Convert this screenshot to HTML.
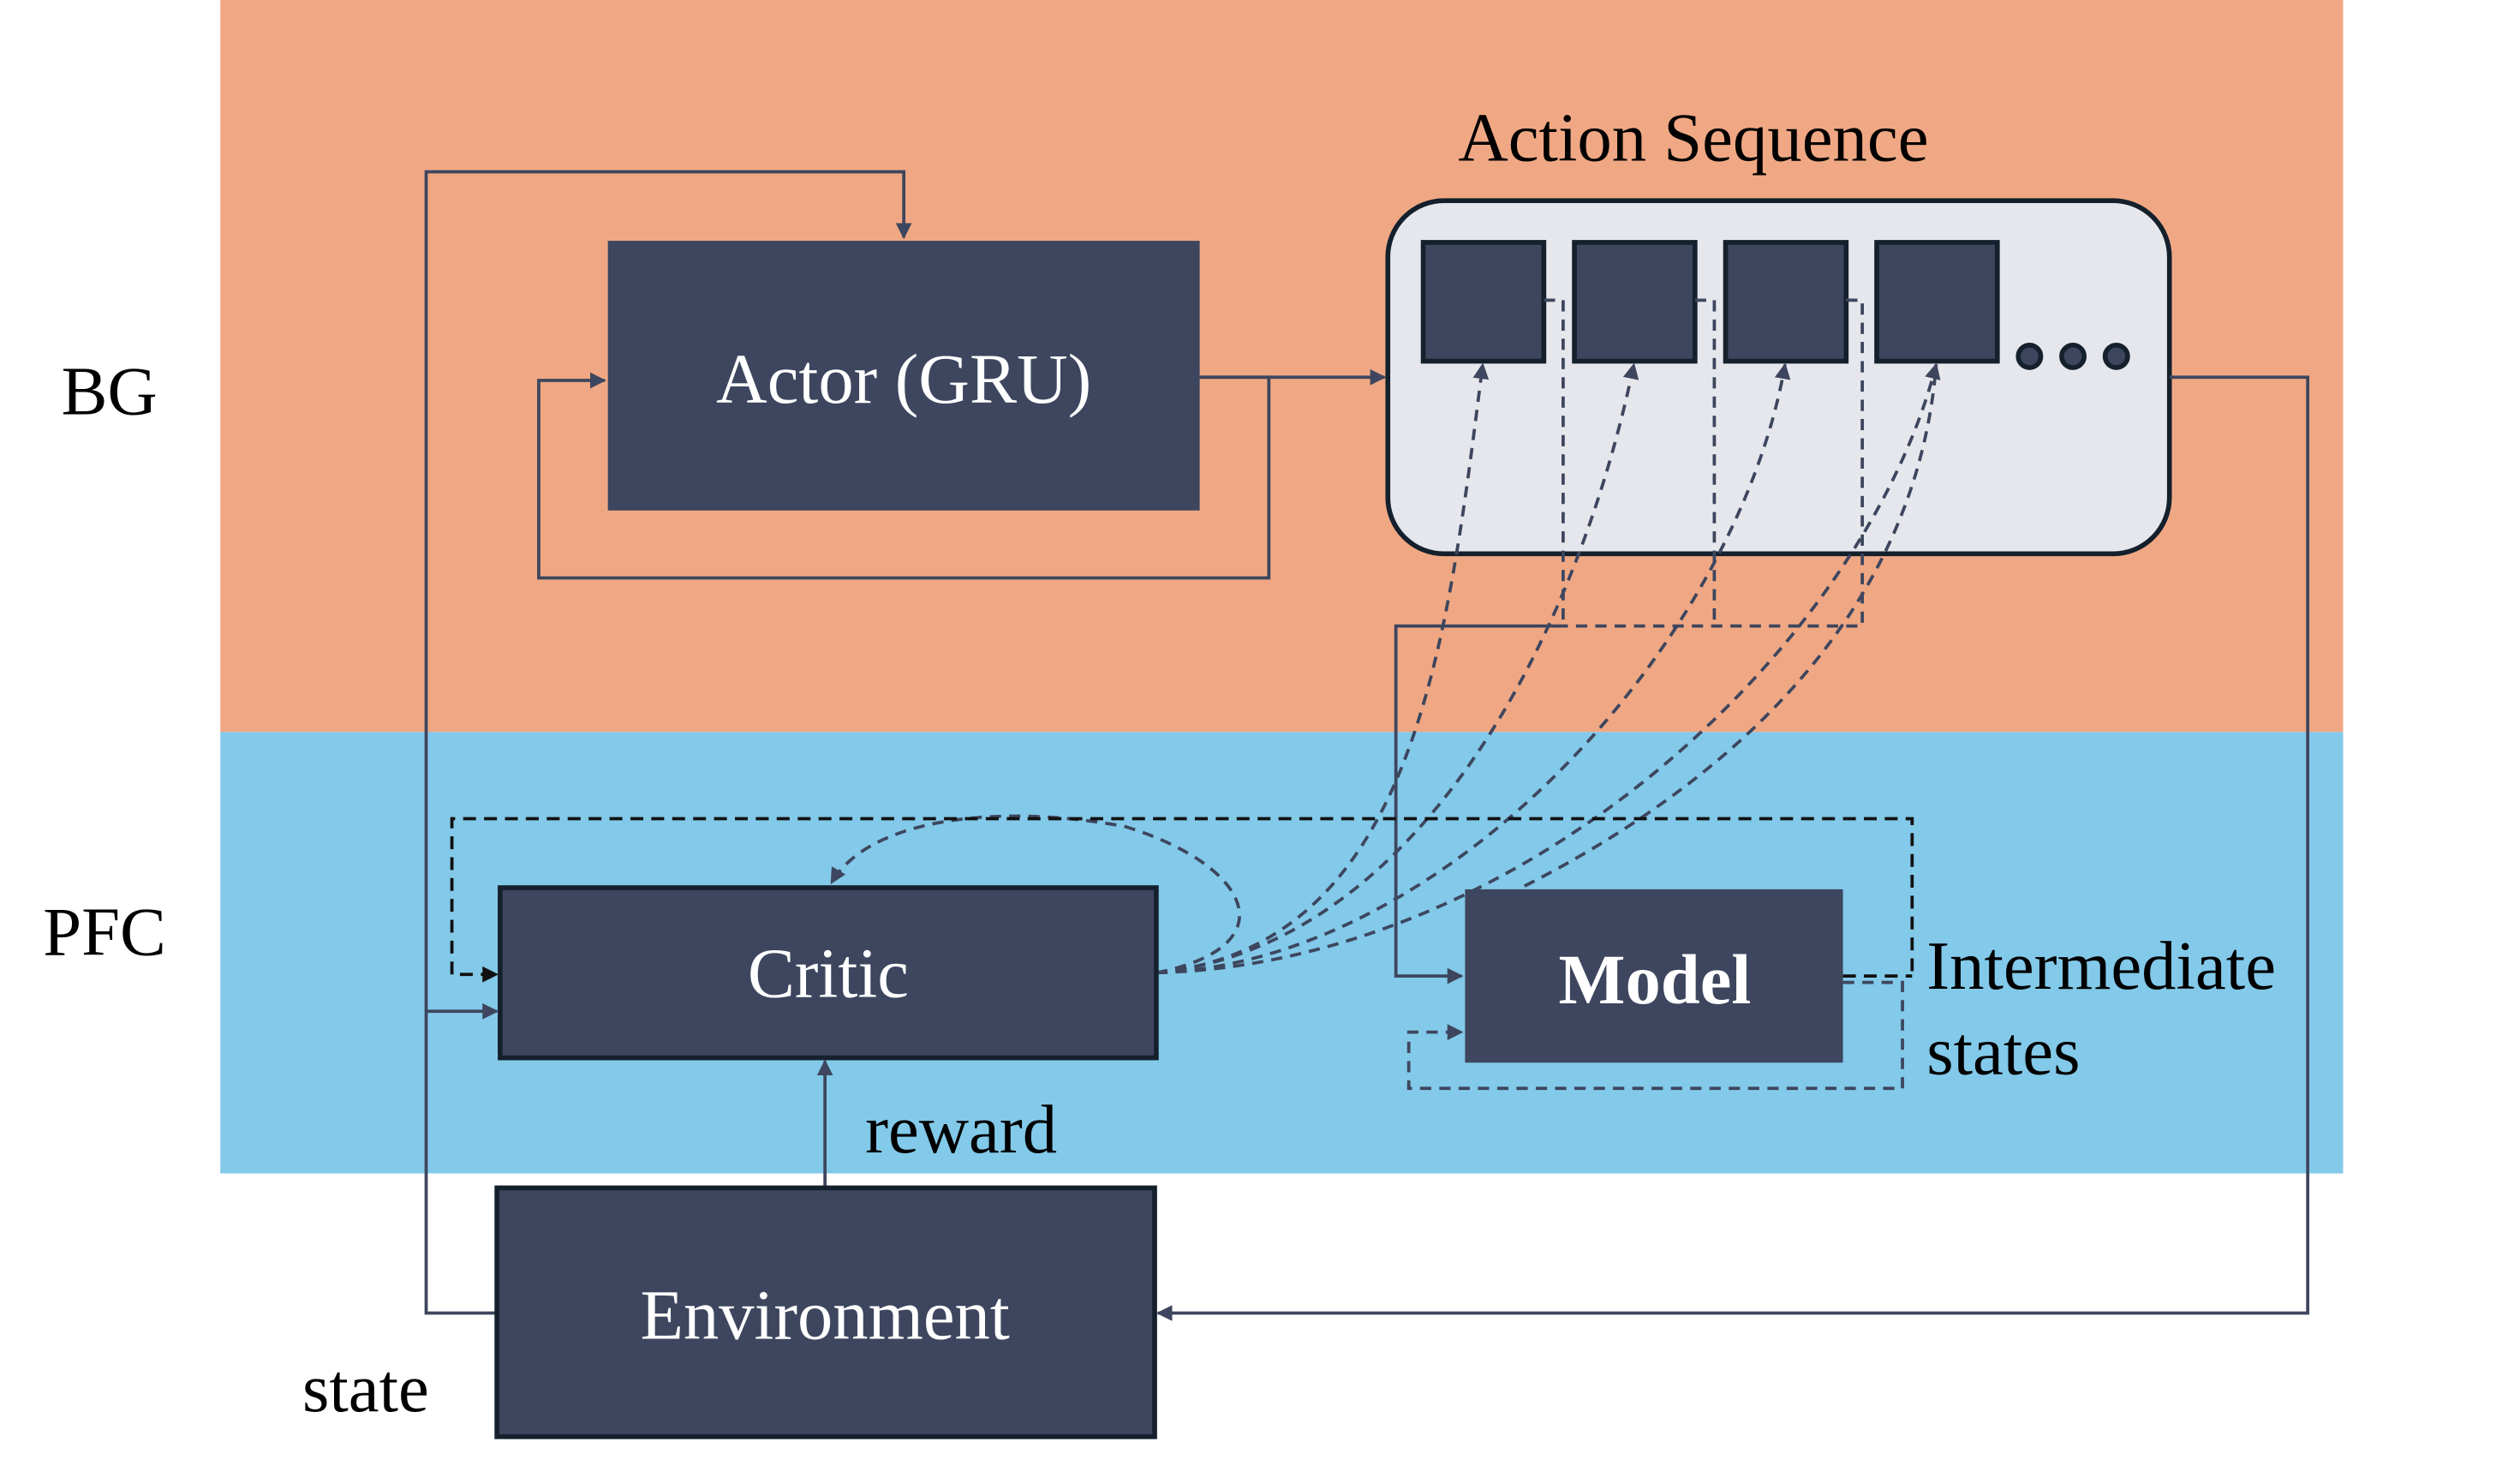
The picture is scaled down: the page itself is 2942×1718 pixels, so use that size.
<!DOCTYPE html>
<html><head><style>html,body{margin:0;padding:0;background:#fff}svg{display:block}</style></head>
<body>
<svg width="2942" height="1718" viewBox="0 0 1567 917" preserveAspectRatio="none" xmlns="http://www.w3.org/2000/svg" font-family="Liberation Serif, serif">
<defs>
<marker id="a" viewBox="0 0 10 10" refX="9" refY="5" markerWidth="5" markerHeight="5" orient="auto"><path d="M0,0L10,5L0,10z" fill="#3D465E"/></marker>
<marker id="b" viewBox="0 0 10 10" refX="9" refY="5" markerWidth="5" markerHeight="5" orient="auto"><path d="M0,0L10,5L0,10z" fill="#111"/></marker>
</defs>
<rect x="137" y="0" width="1320" height="456" fill="#F0A884"/>
<rect x="137" y="456" width="1320" height="275" fill="#83C9E9"/>
<text x="68" y="258" font-size="43" text-anchor="middle">BG</text>
<text x="65" y="595" font-size="43" text-anchor="middle">PFC</text>
<text x="1053" y="100" font-size="43" text-anchor="middle">Action Sequence</text>
<text x="538" y="718" font-size="43">reward</text>
<text x="188" y="879" font-size="43">state</text>
<text x="1198" y="616" font-size="43">Intermediate</text>
<text x="1198" y="669" font-size="43">states</text>

<rect x="378" y="150" width="368" height="168" fill="#3D465E"/>
<text x="562" y="251" font-size="44" fill="#fff" text-anchor="middle">Actor (GRU)</text>
<rect x="863" y="125" width="486" height="220" rx="35" fill="#E6E7EC" stroke="#14202c" stroke-width="3"/>
<g fill="#3D465E" stroke="#14202c" stroke-width="3">
<rect x="885" y="151" width="75" height="74"/>
<rect x="979" y="151" width="75" height="74"/>
<rect x="1073" y="151" width="75" height="74"/>
<rect x="1167" y="151" width="75" height="74"/>
<circle cx="1262" cy="222" r="7"/><circle cx="1289" cy="222" r="7"/><circle cx="1316" cy="222" r="7"/>
</g>

<g fill="none" stroke="#3D465E" stroke-width="2">
<path d="M746,235H861" marker-end="url(#a)"/>
<path d="M746,235H789V360H335V237H376" marker-end="url(#a)"/>
<path d="M309,818H265V107H562V148" marker-end="url(#a)"/>
<path d="M265,630H309" marker-end="url(#a)"/>
<path d="M1349,235H1435V818H720" marker-end="url(#a)"/>
<path d="M513,740V661" marker-end="url(#a)"/>
<path d="M972,390H868V608H909" marker-end="url(#a)"/>
</g>
<g fill="none" stroke="#3D465E" stroke-width="2" stroke-dasharray="7,5">
<path d="M960,187H972V390M1054,187H1066V390M1148,187H1158V390H972"/>
<path d="M1146,612H1183V678H876V643H909" marker-end="url(#a)"/>
<path d="M719,606C880,590 900,400 922,227" marker-end="url(#a)"/>
<path d="M719,606C880,590 980,400 1016,227" marker-end="url(#a)"/>
<path d="M719,606C900,600 1080,400 1110,227" marker-end="url(#a)"/>
<path d="M719,606C950,600 1160,400 1204,227" marker-end="url(#a)"/>
<path d="M948,552C1050,500 1190,400 1204,227"/>
<path d="M719,606C800,590 780,540 700,515C620,500 540,510 517,550" marker-end="url(#a)"/>
</g>
<g fill="none" stroke="#111" stroke-width="2" stroke-dasharray="8,5">
<path d="M1189,605V510H281V607H309" marker-end="url(#b)"/>
<path d="M1146,608H1189"/>
</g>

<rect x="311" y="553" width="408" height="106" fill="#3D465E" stroke="#14202c" stroke-width="3"/>
<text x="515" y="621" font-size="44" fill="#fff" text-anchor="middle">Critic</text>
<rect x="911" y="554" width="235" height="108" fill="#3D465E"/>
<text x="1029" y="625" font-size="44" font-weight="bold" fill="#fff" text-anchor="middle">Model</text>
<rect x="309" y="740" width="409" height="155" fill="#3D465E" stroke="#14202c" stroke-width="3"/>
<text x="513" y="834" font-size="44" fill="#fff" text-anchor="middle">Environment</text>
</svg>
</body></html>
